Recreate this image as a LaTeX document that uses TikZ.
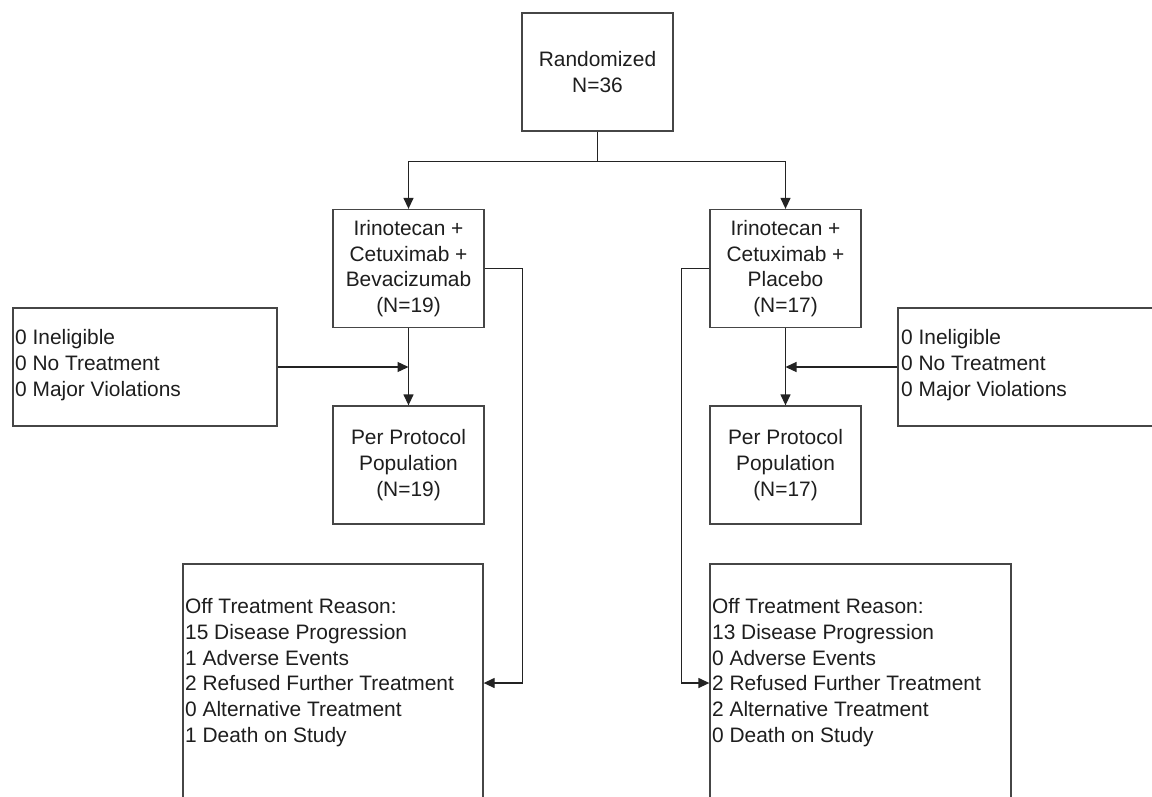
\documentclass[tikz,border=0pt]{standalone}
\usepackage{fontspec}
\setmainfont{Liberation Sans}
\usetikzlibrary{arrows.meta,calc}
\definecolor{boxc}{RGB}{70,70,70}
\definecolor{linec}{RGB}{35,35,35}
\definecolor{txtc}{RGB}{30,30,30}
\begin{document}
\begin{tikzpicture}[x=1pt,y=-1pt,
  every node/.style={font=\fontsize{20.9}{25.8}\selectfont, text=txtc},
  cbox/.style={draw=boxc, line width=1.3pt, align=center, inner sep=0pt, minimum width=151pt, minimum height=118pt},
  sbox/.style={draw=boxc, line width=1.3pt, inner sep=0pt},
  ltext/.style={align=left, anchor=west, inner sep=0pt},
  conn/.style={draw=linec, line width=1.3pt},
  arr/.style={conn, -{Triangle[width=10pt,length=11pt]}}
]
\path[use as bounding box, clip] (0,0) rectangle (1152,796);
\fill[white] (0,0) rectangle (1152,796);

\node[cbox] (rand) at (597.5,72) {Randomized\\N=36};
\node[cbox] (armL) at (408.5,268.5) {Irinotecan +\\Cetuximab +\\Bevacizumab\\(N=19)};
\node[cbox] (armR) at (785.5,268.5) {Irinotecan +\\Cetuximab +\\Placebo\\(N=17)};
\node[cbox] (ppL) at (408.5,465) {Per Protocol\\Population\\(N=19)};
\node[cbox] (ppR) at (785.5,465) {Per Protocol\\Population\\(N=17)};

\node[sbox, minimum width=264pt, minimum height=118pt] (excL) at (145,367) {};
\node[ltext] (excLt) at (15,365) {0 Ineligible\\0 No Treatment\\0 Major Violations};
\node[sbox, minimum width=264pt, minimum height=118pt] (excR) at (1030,367) {};
\node[ltext] (excRt) at (901,365) {0 Ineligible\\0 No Treatment\\0 Major Violations};

\node[sbox, minimum width=300pt, minimum height=238pt] (offL) at (333,683) {};
\node[ltext] (offLt) at (185,672.5) {Off Treatment Reason:\\15 Disease Progression\\1 Adverse Events\\2 Refused Further Treatment\\0 Alternative Treatment\\1 Death on Study};
\node[sbox, minimum width=301pt, minimum height=238pt] (offR) at (860.5,683) {};
\node[ltext] (offRt) at (712,672.5) {Off Treatment Reason:\\13 Disease Progression\\0 Adverse Events\\2 Refused Further Treatment\\2 Alternative Treatment\\0 Death on Study};

\coordinate (split) at ($(rand.south)+(0,30)$);
\draw[conn] (rand.south) -- (split);
\draw[arr] (split) -| (armL.north);
\draw[arr] (split) -| (armR.north);
\draw[arr] (armL.south) -- (ppL.north);
\draw[arr] (armR.south) -- (ppR.north);
\draw[arr] (excL.east) -- (excL.east -| armL.south);
\draw[arr] (excR.west) -- (excR.west -| armR.south);
\coordinate (bendL) at ($(armL.east)+(38,0)$);
\coordinate (bendR) at ($(armR.west)+(-28,0)$);
\draw[arr] (armL.east) -- (bendL) |- (offL.east);
\draw[arr] (armR.west) -- (bendR) |- (offR.west);
\end{tikzpicture}
\end{document}
